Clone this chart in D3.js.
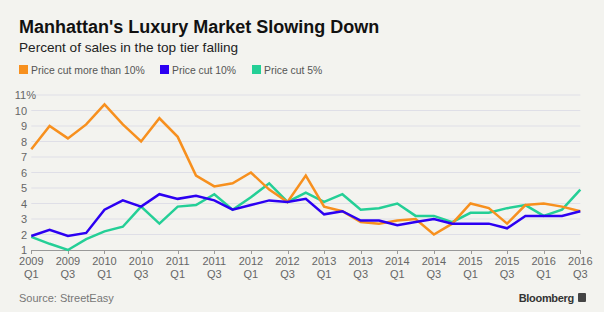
<!DOCTYPE html>
<head>
  <meta charset="utf-8">
  <script src="https://d3js.org/d3.v7.min.js"></script>
  <style>
    body { margin:0; background:#f3f3ef; }
    svg { display:block; font-family:"Liberation Sans", Arial, sans-serif; }
  </style>
</head>
<body>
  <script>
    var width = 604, height = 312;

    // quarters, 2009 Q1 .. 2016 Q3
    var quarters = ["2009 Q1","2009 Q2","2009 Q3","2009 Q4","2010 Q1","2010 Q2","2010 Q3","2010 Q4",
                    "2011 Q1","2011 Q2","2011 Q3","2011 Q4","2012 Q1","2012 Q2","2012 Q3","2012 Q4",
                    "2013 Q1","2013 Q2","2013 Q3","2013 Q4","2014 Q1","2014 Q2","2014 Q3","2014 Q4",
                    "2015 Q1","2015 Q2","2015 Q3","2015 Q4","2016 Q1","2016 Q2","2016 Q3"];

    var cutMore10 = [7.5,9.0,8.2,9.1,10.4,9.1,8.0,9.5,8.3,5.8,5.1,5.3,6.0,4.9,4.1,5.8,
                     3.8,3.5,2.8,2.7,2.9,3.0,2.0,2.7,4.0,3.7,2.7,3.9,4.0,3.8,3.5];
    var cut10     = [1.9,2.3,1.9,2.1,3.6,4.2,3.8,4.6,4.3,4.5,4.2,3.6,3.9,4.2,4.1,4.3,
                     3.3,3.5,2.9,2.9,2.6,2.8,3.0,2.7,2.7,2.7,2.4,3.2,3.2,3.2,3.5];
    var cut5      = [1.85,1.4,1.0,1.7,2.2,2.5,3.8,2.7,3.8,3.9,4.6,3.6,4.4,5.3,4.1,4.7,
                     4.1,4.6,3.6,3.7,4.0,3.2,3.2,2.8,3.4,3.4,3.7,3.9,3.2,3.6,4.9];

    var seriesNames = ["Price cut more than 10%", "Price cut 10%", "Price cut 5%"];
    var seriesColors = ["#f7901e", "#2c00f2", "#24cf96"];
    var yTicks = [1,2,3,4,5,6,7,8,9,10,11];

    var svg = d3.select("body").append("svg")
      .attr("width", width)
      .attr("height", height);

    svg.append("rect").attr("width", width).attr("height", height).attr("fill", "#f3f3ef");

    // titles
    svg.append("text").attr("x", 19).attr("y", 33)
      .attr("font-size", 18).attr("font-weight", "bold").attr("fill", "#111")
      .text("Manhattan's Luxury Market Slowing Down");
    svg.append("text").attr("x", 19).attr("y", 52)
      .attr("font-size", 13.6).attr("fill", "#222")
      .text("Percent of sales in the top tier falling");

    // legend
    var legX = [19, 160, 252];
    var leg = svg.selectAll("g.leg").data(seriesNames).enter().append("g")
      .attr("class", "leg")
      .attr("transform", function(d, i) { return "translate(" + legX[i] + ",65)"; });
    leg.append("rect").attr("width", 9).attr("height", 9)
      .attr("fill", function(d, i) { return seriesColors[i]; });
    leg.append("text").attr("x", 12).attr("y", 8.5)
      .attr("font-size", 10.4).attr("fill", "#555")
      .text(function(d) { return d; });

    var x = d3.scaleLinear().domain([0, quarters.length - 1]).range([31.3, 580.3]);
    var y = d3.scaleLinear().domain([1, 11]).range([250, 95]);

    // gridlines
    svg.selectAll("line.grid").data(yTicks.slice(1)).enter().append("line")
      .attr("class", "grid")
      .attr("x1", x(0)).attr("x2", x(quarters.length - 1))
      .attr("y1", function(d) { return y(d); }).attr("y2", function(d) { return y(d); })
      .attr("stroke", "#dfdfe7").attr("stroke-width", 1);

    // y labels
    svg.selectAll("text.ylab").data(yTicks).enter().append("text")
      .attr("class", "ylab")
      .attr("x", 27).attr("y", function(d) { return y(d) + 4; })
      .attr("font-size", 11).attr("fill", "#666")
      .attr("text-anchor", "start")
      .each(function(d) {
        var t = d3.select(this);
        var w = (String(d).length) * 6.1;
        t.attr("x", 27 - w).text(d === 11 ? d + "%" : d);
      });

    // x axis
    var tickIdx = d3.range(0, quarters.length, 2);
    svg.append("line")
      .attr("x1", x(0)).attr("x2", x(quarters.length - 1))
      .attr("y1", 250.5).attr("y2", 250.5)
      .attr("stroke", "#999");
    svg.selectAll("line.xt").data(tickIdx).enter().append("line")
      .attr("class", "xt")
      .attr("x1", function(d) { return Math.round(x(d)) + 0.5; })
      .attr("x2", function(d) { return Math.round(x(d)) + 0.5; })
      .attr("y1", 250).attr("y2", 254)
      .attr("stroke", "#999");
    var xl = svg.selectAll("text.xl").data(tickIdx).enter().append("text")
      .attr("class", "xl")
      .attr("text-anchor", "middle")
      .attr("font-size", 11).attr("fill", "#666");
    xl.append("tspan")
      .attr("x", function(d) { return x(d); }).attr("y", 265)
      .text(function(d) { return quarters[d].split(" ")[0]; });
    xl.append("tspan")
      .attr("x", function(d) { return x(d); }).attr("y", 278)
      .text(function(d) { return quarters[d].split(" ")[1]; });

    // lines
    var line = d3.line()
      .x(function(d, i) { return x(i); })
      .y(function(d) { return y(d); });
    var allSeries = [cutMore10, cut10, cut5];
    [2, 0, 1].forEach(function(k) {
      svg.append("path")
        .datum(allSeries[k])
        .attr("d", line)
        .attr("fill", "none")
        .attr("stroke", seriesColors[k])
        .attr("stroke-width", 2.5)
        .attr("stroke-linejoin", "miter");
    });

    // footer
    svg.append("text").attr("x", 19).attr("y", 302)
      .attr("font-size", 11).attr("fill", "#777")
      .text("Source: StreetEasy");
    svg.append("text").attr("x", 574).attr("y", 302)
      .attr("text-anchor", "end")
      .attr("font-size", 11).attr("font-weight", "bold").attr("fill", "#333")
      .attr("letter-spacing", -0.3)
      .text("Bloomberg");
    svg.append("rect").attr("x", 578).attr("y", 293).attr("width", 8).attr("height", 9)
      .attr("rx", 1).attr("fill", "#444");
  </script>
</body>
